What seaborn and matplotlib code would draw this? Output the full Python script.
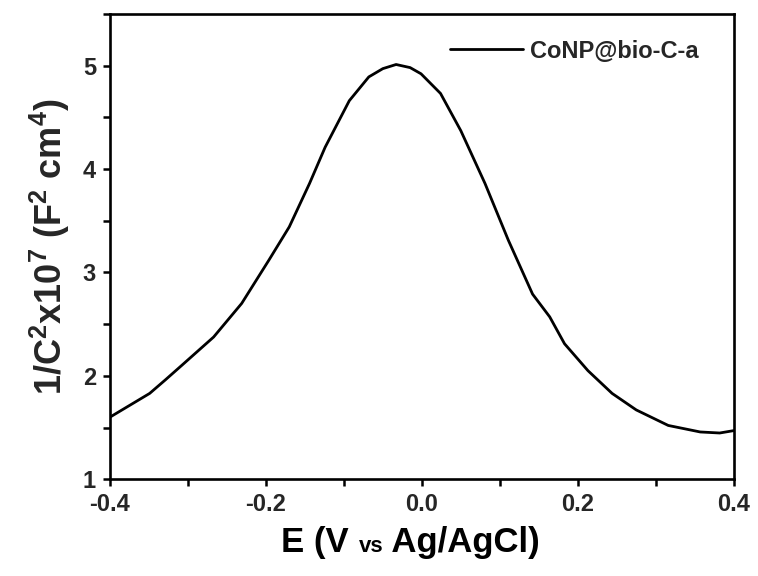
import matplotlib
matplotlib.use("Agg")
import matplotlib.pyplot as plt
import seaborn as sns
import pandas as pd
from matplotlib.offsetbox import TextArea, HPacker, AnchoredOffsetbox
from matplotlib.ticker import MultipleLocator

# Data
potential = [-0.400, -0.349, -0.329, -0.308, -0.267, -0.231, -0.196, -0.170,
             -0.144, -0.124, -0.093, -0.068, -0.050, -0.033, -0.015, -0.001,
             0.024, 0.050, 0.081, 0.111, 0.142, 0.164, 0.183, 0.213, 0.244,
             0.275, 0.316, 0.357, 0.382, 0.400]
inv_c2 = [1.60, 1.83, 1.96, 2.10, 2.375, 2.70, 3.12, 3.44,
          3.86, 4.21, 4.66, 4.89, 4.97, 5.01, 4.98, 4.92,
          4.73, 4.37, 3.86, 3.31, 2.79, 2.57, 2.31, 2.05, 1.83,
          1.67, 1.52, 1.457, 1.447, 1.47]
series_name = "CoNP@bio-C-a"
x_ticks = [-0.4, -0.2, 0.0, 0.2, 0.4]
y_ticks = [1, 2, 3, 4, 5]

df = pd.DataFrame({"E": potential, "C": inv_c2, "sample": series_name})

sns.set_style("ticks")
plt.rcParams["font.family"] = ["Liberation Sans", "DejaVu Sans"]
plt.rcParams["font.weight"] = "bold"
plt.rcParams["mathtext.fontset"] = "custom"
plt.rcParams["mathtext.rm"] = "Liberation Sans:bold"
plt.rcParams["mathtext.bf"] = "Liberation Sans:bold"
plt.rcParams["mathtext.it"] = "Liberation Sans:bold"

fig = plt.figure(figsize=(7.58, 5.76), dpi=100)
ax = fig.add_axes([0.145, 0.168, 0.823, 0.808])

sns.lineplot(data=df, x="E", y="C", hue="sample", palette=["black"],
             sort=False, linewidth=2.0, ax=ax,
             solid_joinstyle="round", solid_capstyle="round")

ax.set_xlim(-0.4, 0.4)
ax.set_ylim(1, 5.5)
ax.set_xticks(x_ticks)
ax.set_xticklabels([f"{v:.1f}" for v in x_ticks])
ax.set_yticks(y_ticks)
ax.xaxis.set_minor_locator(MultipleLocator(0.1))
ax.yaxis.set_minor_locator(MultipleLocator(0.5))
ax.tick_params(which="both", direction="out", length=5, width=1.8,
               labelsize=17, color="black", top=False, right=False, pad=5)
for lab in ax.get_xticklabels() + ax.get_yticklabels():
    lab.set_fontweight("bold")
for sp in ax.spines.values():
    sp.set_visible(True)
    sp.set_linewidth(1.9)
    sp.set_color("black")

ax.set_ylabel(r"1/C$^{2}$x10$^{7}$ (F$^{2}$ cm$^{4}$)", fontsize=26,
              fontweight="bold", labelpad=8)
ax.set_xlabel("")

# x label with smaller "vs"
parts = [TextArea("E (V ", textprops=dict(size=25, weight="bold", color="black")),
         TextArea("vs", textprops=dict(size=16, weight="bold", color="black")),
         TextArea(" Ag/AgCl)", textprops=dict(size=25, weight="bold", color="black"))]
box = HPacker(children=parts, align="baseline", pad=0, sep=0)
anch = AnchoredOffsetbox(loc="upper center", child=box, frameon=False,
                         bbox_to_anchor=(0.482, -0.1), bbox_transform=ax.transAxes,
                         borderpad=0, pad=0)
ax.add_artist(anch)

leg = ax.legend(loc="upper right", frameon=False, fontsize=17,
                handlelength=3.1, handletextpad=0.3,
                bbox_to_anchor=(0.978, 0.99))
for t in leg.get_texts():
    t.set_fontweight("bold")
for h in leg.get_lines():
    h.set_linewidth(2.0)

fig.savefig("out.png", dpi=100, facecolor="white")
